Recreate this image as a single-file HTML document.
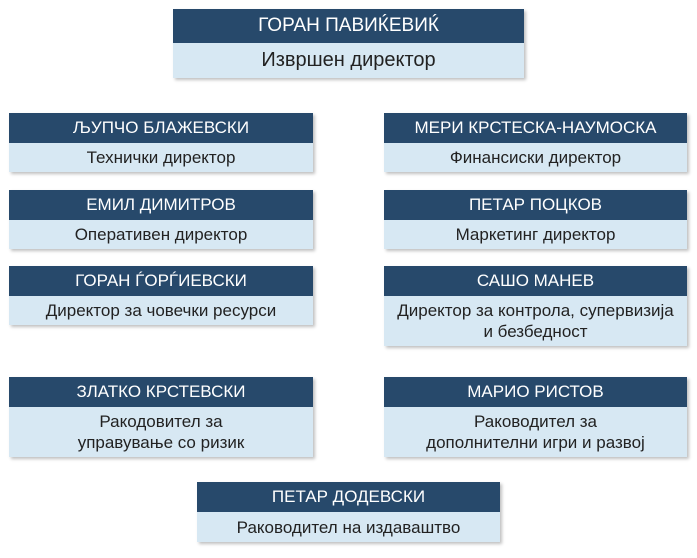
<!DOCTYPE html>
<html><head><meta charset="utf-8"><style>
body{margin:0;width:697px;height:558px;background:#fff;font-family:"Liberation Sans","DejaVu Sans",sans-serif;position:relative;overflow:hidden}
.b{position:absolute;box-shadow:2px 2px 3px rgba(0,0,0,.25)}
.h{background:#27496b;color:#fff;text-align:center;font-size:17px;display:flex;align-items:center;justify-content:center}
.d{background:#d7e8f3;color:#222;text-align:center;font-size:17px;display:flex;align-items:center;justify-content:center;line-height:21px}
</style></head><body>
<div class="b" style="left:173px;top:9px;width:351px"><div class="h" style="height:34px;font-size:19px">ГОРАН ПАВИЌЕВИЌ</div><div class="d" style="height:35px;font-size:20px">Извршен директор</div></div>

<div class="b" style="left:9px;top:113px;width:304px"><div class="h" style="height:30px">ЉУПЧО БЛАЖЕВСКИ</div><div class="d" style="height:29px">Технички директор</div></div>
<div class="b" style="left:9px;top:190px;width:304px"><div class="h" style="height:30px">ЕМИЛ ДИМИТРОВ</div><div class="d" style="height:29px">Оперативен директор</div></div>
<div class="b" style="left:9px;top:266px;width:304px"><div class="h" style="height:30px">ГОРАН ЃОРЃИЕВСКИ</div><div class="d" style="height:29px">Директор за човечки ресурси</div></div>
<div class="b" style="left:9px;top:377px;width:304px"><div class="h" style="height:30px">ЗЛАТКО КРСТЕВСКИ</div><div class="d" style="height:50px">Ракодовител за<br>управување со ризик</div></div>

<div class="b" style="left:384px;top:113px;width:303px"><div class="h" style="height:30px">МЕРИ КРСТЕСКА-НАУМОСКА</div><div class="d" style="height:29px">Финансиски директор</div></div>
<div class="b" style="left:384px;top:190px;width:303px"><div class="h" style="height:30px">ПЕТАР ПОЦКОВ</div><div class="d" style="height:29px">Маркетинг директор</div></div>
<div class="b" style="left:384px;top:266px;width:303px"><div class="h" style="height:30px">САШО МАНЕВ</div><div class="d" style="height:50px">Директор за контрола, супервизија<br>и безбедност</div></div>
<div class="b" style="left:384px;top:377px;width:303px"><div class="h" style="height:30px">МАРИО РИСТОВ</div><div class="d" style="height:50px">Раководител за<br>дополнителни игри и развој</div></div>

<div class="b" style="left:197px;top:482px;width:303px"><div class="h" style="height:30px">ПЕТАР ДОДЕВСКИ</div><div class="d" style="height:30px">Раководител на издаваштво</div></div>
</body></html>
